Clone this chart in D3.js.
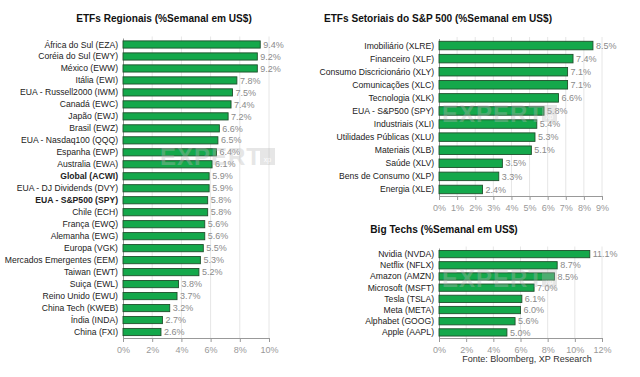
<!DOCTYPE html>
<html>
<head>
<meta charset="utf-8">
<script src="https://cdn.jsdelivr.net/npm/d3@7"></script>
<style>
  body { margin: 0; background: #fff; }
  svg { font-family: "Liberation Sans", Arial, sans-serif; }
</style>
</head>
<body>
<div id="chart"></div>
<script>
const width = 640;
const height = 377;

// --- Data ---
const regionalLabels = ["África do Sul (EZA)", "Coréia do Sul (EWY)", "México (EWW)", "Itália (EWI)",
  "EUA - Russell2000 (IWM)", "Canadá (EWC)", "Japão (EWJ)", "Brasil (EWZ)", "EUA - Nasdaq100 (QQQ)",
  "Espanha (EWP)", "Australia (EWA)", "Global (ACWI)", "EUA - DJ Dividends (DVY)", "EUA - S&P500 (SPY)",
  "Chile (ECH)", "França (EWQ)", "Alemanha (EWG)", "Europa (VGK)", "Mercados Emergentes (EEM)",
  "Taiwan (EWT)", "Suiça (EWL)", "Reino Unido (EWU)", "China Tech (KWEB)", "Índia (INDA)", "China (FXI)"];
const regionalValues = [9.4, 9.2, 9.2, 7.8, 7.5, 7.4, 7.2, 6.6, 6.5, 6.4, 6.1, 5.9, 5.9, 5.8, 5.8, 5.6, 5.6, 5.5, 5.3, 5.2, 3.8, 3.7, 3.2, 2.7, 2.6];
const regionalBold = ["Global (ACWI)", "EUA - S&P500 (SPY)"];
const regionalTicks = [0, 2, 4, 6, 8, 10];

const sectorLabels = ["Imobiliário (XLRE)", "Financeiro (XLF)", "Consumo Discricionário (XLY)", "Comunicações (XLC)",
  "Tecnologia (XLK)", "EUA - S&P500 (SPY)", "Industriais (XLI)", "Utilidades Públicas (XLU)",
  "Materiais (XLB)", "Saúde (XLV)", "Bens de Consumo (XLP)", "Energia (XLE)"];
const sectorValues = [8.5, 7.4, 7.1, 7.1, 6.6, 5.8, 5.4, 5.3, 5.1, 3.5, 3.3, 2.4];
const sectorTicks = [0, 1, 2, 3, 4, 5, 6, 7, 8, 9];

const techLabels = ["Nvidia (NVDA)", "Netflix (NFLX)", "Amazon (AMZN)", "Microsoft (MSFT)",
  "Tesla (TSLA)", "Meta (META)", "Alphabet (GOOG)", "Apple (AAPL)"];
const techValues = [11.1, 8.7, 8.5, 7.0, 6.1, 6.0, 5.6, 5.0];
const techTicks = [0, 2, 4, 6, 8, 10, 12];

const svg = d3.select("#chart")
  .append("svg")
  .attr("width", width)
  .attr("height", height);

function drawChart(cfg) {
  const g = svg.append("g");

  const x = d3.scaleLinear()
    .domain([0, d3.max(cfg.ticks)])
    .range([cfg.x0, cfg.x1]);

  const y = d3.scaleBand()
    .domain(cfg.labels)
    .range([cfg.y0, cfg.y1])
    .paddingInner(cfg.pad)
    .paddingOuter(cfg.pad / 2);

  // gridlines
  g.append("g")
    .selectAll("line")
    .data(cfg.ticks.slice(1))
    .enter()
    .append("line")
    .attr("x1", d => x(d)).attr("x2", d => x(d))
    .attr("y1", cfg.y0 - 2).attr("y2", cfg.y1)
    .attr("stroke", "#e6e6e6")
    .attr("stroke-width", 1);

  // x axis
  const xAxis = g.append("g")
    .attr("transform", `translate(0,${cfg.y1})`)
    .call(d3.axisBottom(x).tickValues(cfg.ticks).tickFormat(d => d + "%").tickSize(4).tickSizeOuter(0));
  xAxis.select(".domain").attr("stroke", "#999");
  xAxis.selectAll(".tick line").attr("stroke", "#999");
  xAxis.selectAll("text")
    .attr("fill", "#999")
    .attr("font-size", "9px")
    .attr("font-family", "Liberation Sans, Arial, sans-serif")
    .attr("dy", "0.9em");

  // y axis line
  g.append("line")
    .attr("x1", cfg.x0 + 0.5).attr("x2", cfg.x0 + 0.5)
    .attr("y1", cfg.y0).attr("y2", cfg.y1)
    .attr("stroke", "#999");

  // bars
  g.append("g")
    .selectAll("rect")
    .data(cfg.values)
    .enter()
    .append("rect")
    .attr("x", x(0))
    .attr("y", (d, i) => y(cfg.labels[i]))
    .attr("width", d => x(d) - x(0))
    .attr("height", y.bandwidth())
    .attr("fill", "#14a84b")
    .attr("stroke", "#1f4f2c")
    .attr("stroke-width", 0.9);

  // category labels
  g.append("g")
    .selectAll("text")
    .data(cfg.labels)
    .enter()
    .append("text")
    .attr("x", cfg.x0 - 5)
    .attr("y", d => y(d) + y.bandwidth() / 2)
    .attr("dy", "0.35em")
    .attr("text-anchor", "end")
    .attr("font-size", "8.6px")
    .attr("font-weight", d => (cfg.bold || []).includes(d) ? "bold" : "normal")
    .attr("fill", "#222")
    .text(d => d);

  // value labels
  g.append("g")
    .selectAll("text")
    .data(cfg.values)
    .enter()
    .append("text")
    .attr("x", d => x(d) + 3)
    .attr("y", (d, i) => y(cfg.labels[i]) + y.bandwidth() / 2)
    .attr("dy", "0.35em")
    .attr("font-size", "9px")
    .attr("fill", "#8a8a8a")
    .text(d => d.toFixed(1) + "%");

  // title
  g.append("text")
    .attr("x", cfg.titleX)
    .attr("y", cfg.titleY)
    .attr("text-anchor", "middle")
    .attr("font-size", "10.1px")
    .attr("font-weight", "bold")
    .attr("fill", "#111")
    .text(cfg.title);

  // watermark
  const wm = g.append("g").attr("opacity", 0.35);
  wm.append("text")
    .attr("x", cfg.wmX)
    .attr("y", cfg.wmY)
    .attr("font-size", "24px")
    .attr("font-weight", "bold")
    .attr("fill", "#b8b8b8")
    .attr("letter-spacing", "1px")
    .text("EXPERT");
  wm.append("rect")
    .attr("x", cfg.wmX + 100).attr("y", cfg.wmY - 17)
    .attr("width", 15).attr("height", 17)
    .attr("fill", "#b8b8b8");
  wm.append("text")
    .attr("x", cfg.wmX + 107.5).attr("y", cfg.wmY - 3)
    .attr("text-anchor", "middle")
    .attr("font-size", "7px")
    .attr("fill", "#fff")
    .text("xp");
}

drawChart({
  labels: regionalLabels, values: regionalValues, ticks: regionalTicks, bold: regionalBold,
  x0: 123, x1: 269, y0: 38.5, y1: 338, pad: 0.4,
  title: "ETFs Regionais (%Semanal em US$)", titleX: 164, titleY: 22,
  wmX: 160, wmY: 165
});

drawChart({
  labels: sectorLabels, values: sectorValues, ticks: sectorTicks,
  x0: 439, x1: 602, y0: 39, y1: 196, pad: 0.35,
  title: "ETFs Setoriais do S&P 500 (%Semanal em US$)", titleX: 438, titleY: 22,
  wmX: 442, wmY: 122
});

drawChart({
  labels: techLabels, values: techValues, ticks: techTicks,
  x0: 439, x1: 602, y0: 248.5, y1: 338, pad: 0.35,
  title: "Big Techs (%Semanal em US$)", titleX: 444, titleY: 233,
  wmX: 442, wmY: 287
});

svg.append("text")
  .attr("x", 527)
  .attr("y", 362)
  .attr("text-anchor", "middle")
  .attr("font-size", "9px")
  .attr("fill", "#333")
  .text("Fonte: Bloomberg, XP Research");
</script>
</body>
</html>
